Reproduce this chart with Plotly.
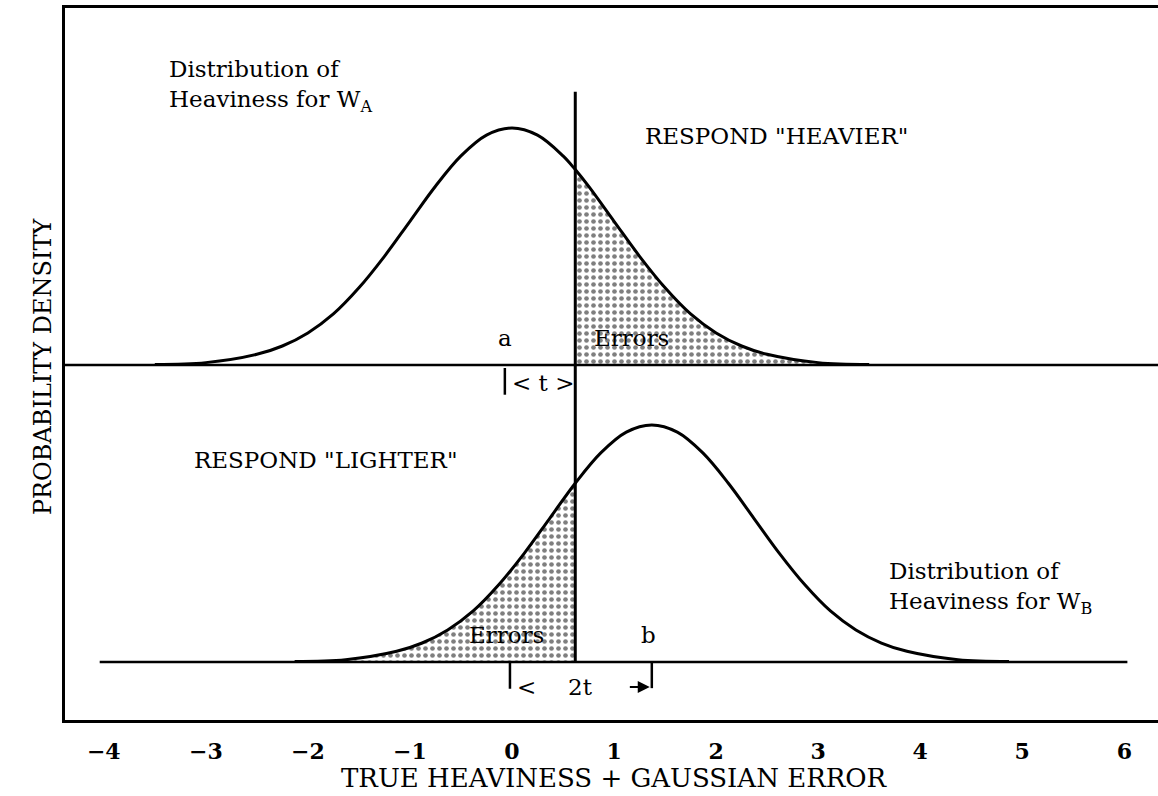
import plotly.graph_objects as go

# values
upper_x = [-3.5, -3.0, -2.5, -2.25, -2.0, -1.75, -1.5, -1.25, -1.0, -0.75, -0.5, -0.25, 0.0,
           0.25, 0.5, 0.62, 0.75, 1.0, 1.25, 1.5, 1.75, 2.0, 2.25, 2.5, 3.0, 3.5]
upper_h = [0.001, 0.004, 0.018, 0.032, 0.054, 0.086, 0.130, 0.183, 0.242, 0.301, 0.352, 0.387, 0.399,
           0.387, 0.352, 0.329, 0.301, 0.242, 0.183, 0.130, 0.086, 0.054, 0.032, 0.018, 0.004, 0.001]

lower_x = [-2.13, -1.63, -1.13, -0.88, -0.63, -0.38, -0.13, 0.12, 0.37, 0.62, 0.87, 1.12, 1.37,
           1.62, 1.87, 2.12, 2.37, 2.62, 2.87, 3.12, 3.37, 3.62, 3.87, 4.37, 4.87]
lower_h = [0.001, 0.004, 0.018, 0.032, 0.054, 0.086, 0.130, 0.183, 0.242, 0.301, 0.352, 0.387, 0.399,
           0.387, 0.352, 0.301, 0.242, 0.183, 0.130, 0.086, 0.054, 0.032, 0.018, 0.004, 0.001]

tick_vals = [-4, -3, -2, -1, 0, 1, 2, 3, 4, 5, 6]

a_mean = -0.03
b_mean = 1.37
t_thr = 0.62
upper_base = 0.5
x_range = [-4.38, 6.33]
y_range = [-0.0976, 1.101]
lower_base_span = [-4.04, 6.03]
thr_top = 0.96

FONT = "DejaVu Serif"
dots = dict(shape=".", fgcolor="black", bgcolor="white", size=7, solidity=0.35)

fig = go.Figure()

# shaded error areas
ux = [t_thr] + [x for x in upper_x if x >= t_thr] + [upper_x[-1]]
uy = [upper_base] + [h + upper_base for x, h in zip(upper_x, upper_h) if x >= t_thr] + [upper_base]
fig.add_trace(go.Scatter(x=ux, y=uy, fill="toself", fillpattern=dots, fillcolor="white",
                         mode="lines", line=dict(width=0), hoverinfo="skip"))
lx = [lower_x[0]] + [x for x in lower_x if x <= t_thr] + [t_thr]
ly = [0] + [h for x, h in zip(lower_x, lower_h) if x <= t_thr] + [0]
fig.add_trace(go.Scatter(x=lx, y=ly, fill="toself", fillpattern=dots, fillcolor="white",
                         mode="lines", line=dict(width=0), hoverinfo="skip"))

# baselines
fig.add_trace(go.Scatter(x=x_range, y=[upper_base, upper_base], mode="lines",
                         line=dict(color="black", width=2.5)))
fig.add_trace(go.Scatter(x=lower_base_span, y=[0, 0], mode="lines",
                         line=dict(color="black", width=2.5)))

# curves
fig.add_trace(go.Scatter(x=upper_x, y=[h + upper_base for h in upper_h], mode="lines",
                         line=dict(color="black", width=3, shape="spline")))
fig.add_trace(go.Scatter(x=lower_x, y=lower_h, mode="lines",
                         line=dict(color="black", width=3, shape="spline")))

# threshold
fig.add_trace(go.Scatter(x=[t_thr, t_thr], y=[0, thr_top], mode="lines",
                         line=dict(color="black", width=3)))

# bracket bars
fig.add_trace(go.Scatter(x=[a_mean - 0.04, a_mean - 0.04], y=[upper_base - 0.005, upper_base - 0.05],
                         mode="lines", line=dict(color="black", width=2.5)))
fig.add_trace(go.Scatter(x=[a_mean + 0.01, a_mean + 0.01, None, b_mean, b_mean],
                         y=[0, -0.045, None, 0, -0.044],
                         mode="lines", line=dict(color="black", width=2.5)))

txt = dict(family=FONT, size=23, color="black")
ann = [
    dict(x=-3.38, y=0.970, text="Distribution of<br>Heaviness for W<sub>A</sub>", xanchor="left", align="left"),
    dict(x=1.284, y=0.886, text='RESPOND "HEAVIER"', xanchor="left"),
    dict(x=a_mean - 0.04, y=0.545, text="a"),
    dict(x=1.17, y=0.545, text="Errors"),
    dict(x=(a_mean + t_thr) / 2 + 0.01, y=0.469, text="&lt; t &gt;"),
    dict(x=-3.135, y=0.340, text='RESPOND "LIGHTER"', xanchor="left"),
    dict(x=-0.05, y=0.045, text="Errors"),
    dict(x=b_mean - 0.03, y=0.045, text="b"),
    dict(x=3.675, y=0.1245, text="Distribution of<br>Heaviness for W<sub>B</sub>", xanchor="left", align="left"),
    dict(x=a_mean + 0.06, y=-0.042, text="&lt;", xanchor="left"),
    dict(x=0.67, y=-0.042, text="2t"),
]
for a in ann:
    a.setdefault("xanchor", "center")
    fig.add_annotation(xref="x", yref="y", showarrow=False, font=txt, **a)

fig.add_annotation(xref="x", yref="y", x=b_mean - 0.02, y=-0.042, ax=b_mean - 0.23, ay=-0.042,
                   axref="x", ayref="y", showarrow=True, arrowhead=2, arrowsize=1.2,
                   arrowwidth=2, arrowcolor="black", text="")

fig.add_annotation(xref="paper", yref="paper", x=-0.0348, y=0.497, text="PROBABILITY DENSITY",
                   textangle=-90, showarrow=False, font=dict(family=FONT, size=24, color="black"))
fig.add_annotation(xref="paper", yref="paper", x=0.503, y=-0.0815, yanchor="middle",
                   text="TRUE HEAVINESS + GAUSSIAN ERROR",
                   showarrow=False, font=dict(family=FONT, size=26, color="black"))

fig.update_xaxes(range=x_range, tickvals=tick_vals, showgrid=False, zeroline=False,
                 showline=True, linecolor="black", linewidth=3, mirror=True, ticks="",
                 ticklabelstandoff=10,
                 tickfont=dict(family=FONT, size=22, color="black", weight="bold"))
fig.update_yaxes(range=y_range, showgrid=False, zeroline=False, showticklabels=False,
                 showline=True, linecolor="black", linewidth=3, ticks="")
fig.update_layout(width=1158, height=796, showlegend=False, plot_bgcolor="white",
                  paper_bgcolor="white", margin=dict(l=65, r=0, t=8, b=76))

# the page's default body margin would shift the figure
fig.write_html("out.html", config={"displayModeBar": False},
               post_script="document.body.style.margin='0';")
